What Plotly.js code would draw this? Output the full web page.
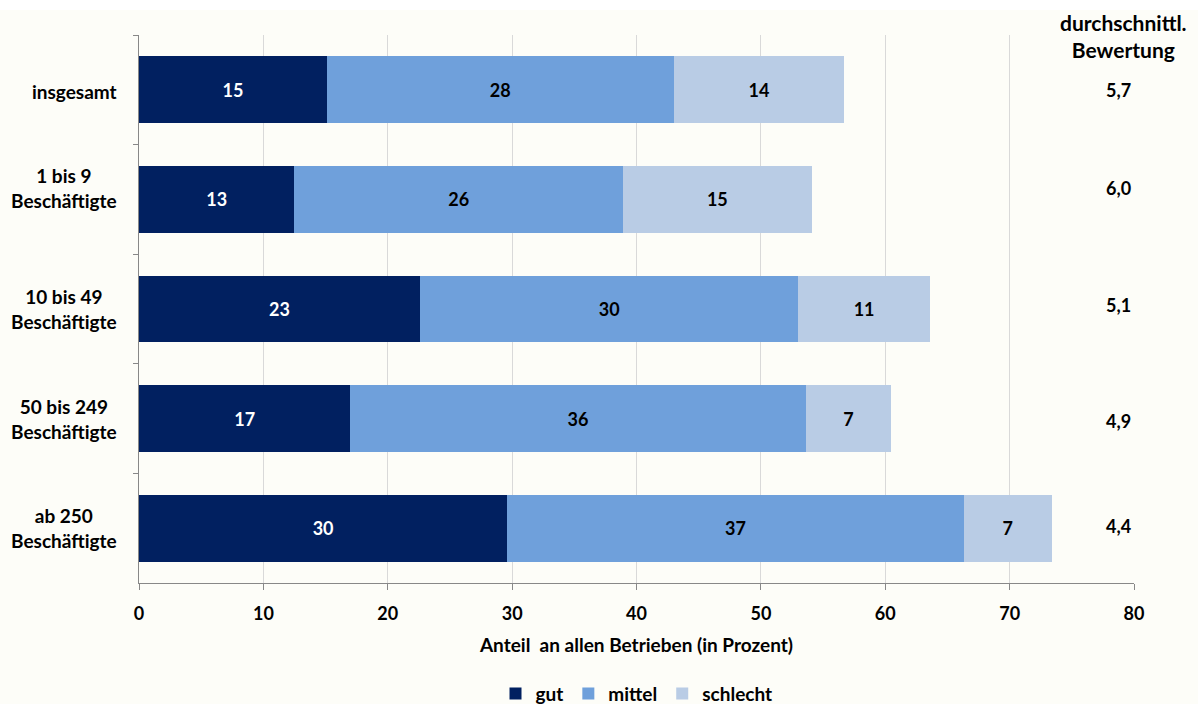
<!DOCTYPE html>
<html>
<head>
<meta charset="utf-8">
<script src="https://cdn.plot.ly/plotly-3.0.1.min.js"></script>
<style>
html,body{margin:0;padding:0;background:#ffffff;}
#chart{position:absolute;left:0;top:10px;width:1198px;height:694px;}
</style>
</head>
<body>
<div id="chart"></div>
<script>
var categories = ["insgesamt", "1 bis 9<br>Beschäftigte", "10 bis 49<br>Beschäftigte", "50 bis 249<br>Beschäftigte", "ab 250<br>Beschäftigte"];
var gut = [15.1, 12.5, 22.6, 17.0, 29.6];
var mittel = [27.9, 26.4, 30.4, 36.6, 36.7];
var schlecht = [13.7, 15.2, 10.6, 6.9, 7.1];
var gutLabels = ["15", "13", "23", "17", "30"];
var mittelLabels = ["28", "26", "30", "36", "37"];
var schlechtLabels = ["14", "15", "11", "7", "7"];
var ratings = ["5,7", "6,0", "5,1", "4,9", "4,4"];
var xTicks = [0, 10, 20, 30, 40, 50, 60, 70, 80];

var FONT = "Lato, 'Open Sans', sans-serif";
var numFont = {family: FONT, size: 18, weight: 700, color: "#000"};
var txtFont = {family: FONT, size: 19, weight: 700, color: "#000"};

function barTrace(name, vals, labels, color, textColor) {
  return {
    type: "bar", orientation: "h", name: name,
    x: vals, y: categories,
    text: labels, texttemplate: "%{text}",
    textposition: "inside", insidetextanchor: "middle",
    textangle: 0, constraintext: "none",
    textfont: {family: FONT, size: 18, weight: 700, color: textColor},
    marker: {color: color, line: {width: 0}},
    hoverinfo: "x+name"
  };
}

var data = [
  barTrace("gut", gut, gutLabels, "#012060", "#ffffff"),
  barTrace("mittel", mittel, mittelLabels, "#6fa0db", "#000000"),
  barTrace("schlecht", schlecht, schlechtLabels, "#b9cce5", "#000000")
];

var annotations = [];
var labelShift = [-2, 11, 0, 0, 0];
categories.forEach(function (c, i) {
  annotations.push({xref: "paper", yref: "y", x: 0, y: c, xanchor: "right", xshift: -20,
    yshift: labelShift[i], align: "center", text: c, showarrow: false, font: txtFont});
});
var ratingShift = [0, 11, 4, -2, 2];
ratings.forEach(function (r, i) {
  annotations.push({xref: "paper", yref: "y", x: 1.0, y: categories[i], xanchor: "center",
    xshift: -16, yshift: ratingShift[i], text: r, showarrow: false, font: numFont});
});
annotations.push({xref: "paper", yref: "paper", x: 1.0, y: 1.0, xanchor: "center", yanchor: "bottom",
  xshift: -11, yshift: -29, align: "center", text: "durchschnittl.<br>Bewertung", showarrow: false,
  font: {family: FONT, size: 21, weight: 700, color: "#000"}});

var layout = {
  width: 1198, height: 694,
  margin: {l: 139, r: 64, t: 25, b: 121},
  paper_bgcolor: "#fdfdf8", plot_bgcolor: "#fdfdf8",
  barmode: "stack", bargap: 0.39,
  showlegend: true,
  legend: {orientation: "h", x: 0.5, xref: "paper", xanchor: "center", yref: "container", y: 0.015, yanchor: "middle",
    font: txtFont, traceorder: "normal", itemwidth: 30},
  xaxis: {range: [0, 80], tickvals: xTicks, ticktext: xTicks.map(String),
    showgrid: true, gridcolor: "#d9d9d9", gridwidth: 1,
    showline: true, linecolor: "#888888", linewidth: 1,
    ticks: "outside", ticklen: 6, tickcolor: "#888888", ticklabelstandoff: 8,
    tickfont: numFont, zeroline: false, fixedrange: true, automargin: false,
    title: {text: "Anteil  an allen Betrieben (in Prozent)", font: txtFont, standoff: 16}},
  yaxis: {autorange: "reversed", type: "category",
    showline: true, linecolor: "#888888", linewidth: 1,
    ticks: "outside", ticklen: 5, tickcolor: "#888888", tickson: "boundaries",
    showticklabels: false, showgrid: false, fixedrange: true, automargin: false},
  annotations: annotations,
  font: {family: FONT, color: "#000"}
};

Plotly.newPlot("chart", data, layout, {displayModeBar: false, staticPlot: true});
</script>
</body>
</html>
